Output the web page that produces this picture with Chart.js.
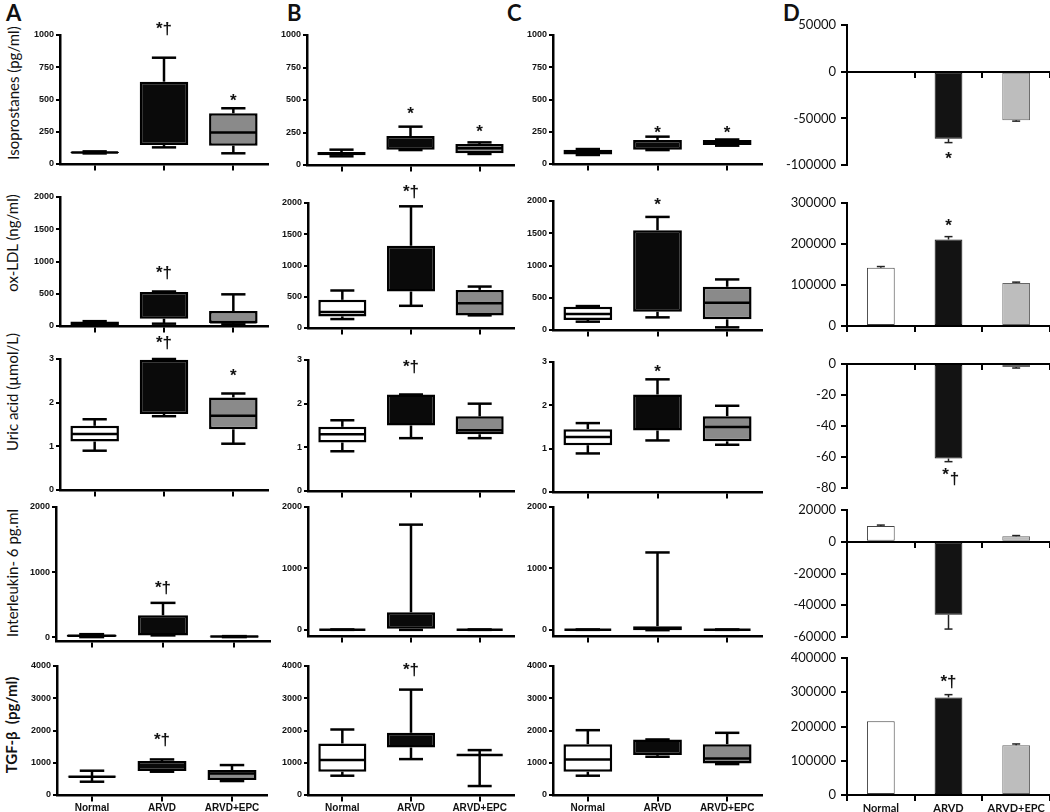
<!DOCTYPE html>
<html>
<head>
<meta charset="utf-8">
<script src="https://cdn.jsdelivr.net/npm/chart.js@4.4.1/dist/chart.umd.min.js"></script>
<style>
  body { margin: 0; background: #fff; width: 1050px; height: 812px; overflow: hidden; position: relative; }
  canvas { position: absolute; }
  .ttl { position: absolute; white-space: nowrap; transform: translate(-50%, -50%) rotate(-90deg);
         font-family: Lato, "Open Sans", sans-serif; font-size: 15px; color: #111; }
  .let { position: absolute; font-family: Lato, "Open Sans", sans-serif; font-weight: bold; font-size: 22px; color: #111; line-height: 1; }
</style>
</head>
<body>
<div class="let" style="left:6px;top:2px">A</div>
<div class="let" style="left:287px;top:2px">B</div>
<div class="let" style="left:507px;top:2px">C</div>
<div class="let" style="left:783px;top:2px">D</div>
<div class="ttl" style="left:13px;top:93px">Isoprostanes (pg/ml)</div>
<div class="ttl" style="left:12px;top:243px">ox-LDL (ng/ml)</div>
<div class="ttl" style="left:12px;top:392px">Uric acid (µmol/L)</div>
<div class="ttl" style="left:12px;top:573px">Interleukin- 6 pg.ml</div>
<div class="ttl" style="left:11px;top:725px;font-weight:bold">TGF-β&nbsp; (pg/ml)</div>
<script>
const groups = ['Normal', 'ARVD', 'ARVD+EPC'];
const boxColors = ['#ffffff', '#0a0a0a', '#8a8a8a'];
const barColors = ['#ffffff', '#131313', '#bdbdbd'];
const showMedian = [true, false, true];   // median hidden inside the black ARVD boxes

// box plots: [min, q1, median, q3, max] per group
const isoA = [[82, 86, 90, 94, 98], [129, 147, 400, 638, 824], [83, 142, 245, 393, 432]];
const isoB = [[67, 75, 88, 100, 118], [115, 118, 150, 223, 295], [85, 90, 128, 162, 174]];
const isoC = [[70, 74, 90, 111, 116], [108, 110, 150, 186, 212], [142, 147, 170, 186, 190]];
const isoD_mean = [0, -72000, -52000];
const isoD_sem = [0, 4000, 1000];

const oxA = [[5, 10, 40, 70, 75], [36, 114, 300, 527, 535], [26, 46, 60, 232, 491]];
const oxB = [[143, 186, 255, 451, 600], [355, 584, 900, 1316, 1947], [202, 202, 398, 610, 663]];
const oxC = [[129, 155, 247, 361, 371], [196, 284, 800, 1546, 1753], [41, 165, 423, 670, 784]];
const oxD_mean = [142000, 211000, 105000];
const oxD_sem = [3000, 7000, 2000];

const uaA = [[0.90, 1.11, 1.28, 1.47, 1.62], [1.69, 1.74, 2.3, 2.98, 3.0], [1.06, 1.39, 1.70, 2.12, 2.21]];
const uaB = [[0.91, 1.11, 1.30, 1.47, 1.62], [1.21, 1.50, 1.9, 2.21, 2.21], [1.21, 1.30, 1.39, 1.71, 2.0]];
const uaC = [[0.89, 1.08, 1.27, 1.45, 1.59], [1.19, 1.42, 1.8, 2.25, 2.6], [1.09, 1.17, 1.5, 1.75, 1.99]];
const uaD_mean = [0, -61, -2];
const uaD_sem = [0, 2, 0.6];

const ilA = [[0, 5, 20, 35, 45], [26, 26, 150, 335, 526], [0, 5, 10, 12, 15]];
const ilB = [[0, 1, 2, 3, 5], [0, 0, 50, 286, 1713], [0, 1, 2, 3, 5]];
const ilC = [[0, 1, 2, 3, 5], [-5, -5, 20, 60, 1260], [0, 1, 2, 3, 5]];
const ilD_mean = [10000, -46000, 3500];
const ilD_sem = [500, 9000, 400];

const tgA = [[412, 560, 565, 570, 753], [722, 742, 900, 1052, 1103], [433, 464, 670, 773, 928]];
const tgB = [[598, 722, 1082, 1598, 2031], [1113, 1474, 1700, 1928, 3268], [278, 1232, 1237, 1242, 1392]];
const tgC = [[598, 722, 1103, 1577, 2010], [1186, 1237, 1500, 1722, 1722], [959, 979, 1134, 1577, 1928]];
const tgD_mean = [215000, 285000, 145000];
const tgD_sem = [0, 8000, 4000];

// y tick labels
const isoTicks = [0, 250, 500, 750, 1000];
const isoDTicks = [-100000, -50000, 0, 50000];
const oxTicks = [0, 500, 1000, 1500, 2000];
const oxDTicks = [0, 100000, 200000, 300000];
const uaTicks = [0, 1, 2, 3];
const uaDTicks = [-80, -60, -40, -20, 0];
const ilTicks = [0, 1000, 2000];
const ilDTicks = [-60000, -40000, -20000, 0, 20000];
const tgTicks = [0, 1000, 2000, 3000, 4000];
const tgDTicks = [0, 100000, 200000, 300000, 400000];

// significance marks per group and the value they sit at ('_' puts the dagger low)
const sig = {
  isoA: [['', '*†', '*'], [0, 1047, 519]], isoB: [['', '*', '*'], [0, 423, 285]],
  isoC: [['', '*', '*'], [0, 271, 271]], isoD: [['', '*', ''], [0, -90000, 0]],
  oxA: [['', '*†', ''], [0, 822, 0]], oxB: [['', '*†', ''], [0, 2176, 0]],
  oxC: [['', '*', ''], [0, 2000, 0]], oxD: [['', '*', ''], [0, 253000, 0]],
  uaA: [['', '*†', '*'], [0, 3.37, 2.70]], uaB: [['', '*†', ''], [0, 2.84, 0]],
  uaC: [['', '*', ''], [0, 2.86, 0]], uaD: [['', '*_†', ''], [0, -69, 0]],
  ilA: [['', '*†', ''], [0, 754, 0]],
  tgA: [['', '*†', ''], [0, 1705, 0]], tgB: [['', '*†', ''], [0, 3876, 0]],
  tgD: [['', '*†', ''], [0, 330000, 0]]
};

// plot frames: left, top(max), right, bottom(min) in page pixels
const frames = {
  isoA: [60, 35, 268, 164], isoB: [307, 35, 514, 165], isoC: [553, 35, 762, 164], isoD: [847, 25, 1050, 165],
  oxA: [60, 197, 268, 326], oxB: [308, 203, 514, 328], oxC: [553, 201, 762, 330], oxD: [847, 203, 1050, 326],
  uaA: [60, 359, 268, 490], uaB: [308, 360, 514, 491], uaC: [553, 362, 762, 492], uaD: [847, 364, 1050, 488],
  ilA: [56, 507, 270, 641], ilB: [308, 507, 514, 636], ilC: [553, 507, 762, 636], ilD: [847, 510, 1050, 637],
  tgA: [57, 666, 267, 795], tgB: [308, 666, 514, 795], tgC: [553, 666, 762, 795], tgD: [847, 658, 1050, 795]
};

const line = (ctx, x1, y1, x2, y2) => { ctx.beginPath(); ctx.moveTo(x1, y1); ctx.lineTo(x2, y2); ctx.stroke(); };

const marksPlugin = {
  id: 'marks',
  afterDatasetsDraw(chart) {
    const ds = chart.data.datasets[0];
    const meta = chart.getDatasetMeta(0);
    const y = chart.scales.y;
    const ctx = chart.ctx;
    ctx.save();
    ctx.strokeStyle = '#000';
    if (ds.stats) {
      ctx.lineWidth = 2.5;
      ds.stats.forEach((s, i) => {
        const bar = meta.data[i];
        const x = bar.x, w = bar.width;
        const [mn, q1, md, q3, mx] = s.map(v => y.getPixelForValue(v));
        line(ctx, x, q3, x, mx);
        line(ctx, x, q1, x, mn);
        line(ctx, x - w / 4, mx, x + w / 4, mx);
        line(ctx, x - w / 4, mn, x + w / 4, mn);
        if (showMedian[i]) line(ctx, x - w / 2 + 1, md, x + w / 2 - 1, md);
      });
    }
    if (ds.sem) {
      ctx.lineWidth = 1.5;
      ctx.strokeStyle = '#222';
      ds.data.forEach((m, i) => {
        if (!ds.sem[i]) return;
        const x = meta.data[i].x;
        const y0 = y.getPixelForValue(m);
        const y1 = y.getPixelForValue(m + Math.sign(m) * ds.sem[i]);
        line(ctx, x, y0, x, y1);
        line(ctx, x - 4, y1, x + 4, y1);
      });
    }
    ctx.restore();
  },
  afterDraw(chart) {
    const ds = chart.data.datasets[0];
    if (!ds.sig) return;
    const meta = chart.getDatasetMeta(0);
    const y = chart.scales.y;
    const ctx = chart.ctx;
    ctx.save();
    ctx.fillStyle = '#111';
    ctx.font = 'bold 17px "Liberation Sans", Arial, sans-serif';
    ctx.textAlign = 'center';
    ctx.textBaseline = 'middle';
    ds.sig[0].forEach((t, i) => {
      if (!t) return;
      const x = meta.data[i].x;
      const py = y.getPixelForValue(ds.sig[1][i]);
      if (t.includes('_')) {
        const [a, b] = t.split('_');
        ctx.fillText(a, x - 3, py + 4);
        ctx.fillText(b, x + 6, py + 8);
      } else {
        ctx.fillText(t, x, t === '*' ? py + 4 : py);
      }
    });
    ctx.restore();
  }
};

function makePanel(name, kind, values, sem, ticks, yMin, yMax, showLabels) {
  const [l, t, r, b] = frames[name];
  const isBar = kind === 'bar';
  const YW = isBar ? 90 : 42, PT = 26, PR = isBar ? 0 : 8, PB = 22;
  const w = r - l + YW + PR, h = b - t + PT + PB;
  const cv = document.createElement('canvas');
  cv.width = w; cv.height = h;
  cv.style.left = (l - YW) + 'px';
  cv.style.top = (t - PT) + 'px';
  cv.style.width = w + 'px';
  cv.style.height = h + 'px';
  document.body.appendChild(cv);

  const tickFont = isBar
    ? { family: 'Lato, "Open Sans", sans-serif', size: 13 }
    : { family: '"Liberation Sans", Arial, sans-serif', size: 9, weight: 'bold' };
  const catFont = isBar
    ? { family: 'Lato, "Open Sans", sans-serif', size: 11, weight: 'bold' }
    : { family: '"Liberation Sans", Arial, sans-serif', size: 10, weight: 'bold' };

  const dataset = isBar
    ? { data: values, backgroundColor: barColors, borderColor: ['#444', '#131313', '#666'], borderWidth: 1,
        borderSkipped: false, barPercentage: 0.41, categoryPercentage: 1, sem: sem }
    : { data: values.map(s => [s[1], s[3]]), backgroundColor: boxColors, borderColor: '#000', borderWidth: 2.5,
        borderSkipped: false, barPercentage: 0.7, categoryPercentage: 1, stats: values };
  dataset.sig = sig[name];

  return new Chart(cv, {
    type: 'bar',
    data: { labels: groups, datasets: [dataset] },
    options: {
      responsive: false,
      animation: false,
      events: [],
      layout: { padding: { top: PT, right: PR, bottom: PB, left: 0 } },
      plugins: { legend: { display: false }, tooltip: { enabled: false } },
      scales: {
        x: {
          position: { y: isBar ? 0 : yMin },
          z: 1,
          offset: true,
          grid: { offset: isBar, display: true, drawOnChartArea: false, drawTicks: true,
                  tickLength: 5, color: '#000', lineWidth: 2 },
          border: { display: true, color: '#000', width: isBar ? 2 : 2.5 },
          ticks: { display: showLabels, font: catFont, color: '#111', padding: 2, maxRotation: 0, autoSkip: false }
        },
        y: {
          min: yMin,
          max: yMax,
          afterFit: s => { s.width = YW; },
          afterBuildTicks: s => { s.ticks = ticks.map(v => ({ value: v })); },
          grid: { display: true, drawOnChartArea: false, drawTicks: true, tickLength: isBar ? 6 : 4,
                  color: '#000', lineWidth: 2 },
          border: { display: true, color: '#000', width: isBar ? 2 : 2.5 },
          ticks: { callback: v => String(v), font: tickFont, color: '#111', padding: isBar ? 5 : 2, autoSkip: false }
        }
      }
    },
    plugins: [marksPlugin]
  });
}

makePanel('isoA', 'box', isoA, null, isoTicks, 0, 1000, false);
makePanel('isoB', 'box', isoB, null, isoTicks, 0, 1000, false);
makePanel('isoC', 'box', isoC, null, isoTicks, 0, 1000, false);
makePanel('isoD', 'bar', isoD_mean, isoD_sem, isoDTicks, -100000, 50000, false);

makePanel('oxA', 'box', oxA, null, oxTicks, 0, 2000, false);
makePanel('oxB', 'box', oxB, null, oxTicks, 0, 2000, false);
makePanel('oxC', 'box', oxC, null, oxTicks, 0, 2000, false);
makePanel('oxD', 'bar', oxD_mean, oxD_sem, oxDTicks, 0, 300000, false);

makePanel('uaA', 'box', uaA, null, uaTicks, 0, 3, false);
makePanel('uaB', 'box', uaB, null, uaTicks, 0, 3, false);
makePanel('uaC', 'box', uaC, null, uaTicks, 0, 3, false);
makePanel('uaD', 'bar', uaD_mean, uaD_sem, uaDTicks, -80, 0, false);

makePanel('ilA', 'box', ilA, null, ilTicks, -60, 2000, false);
makePanel('ilB', 'box', ilB, null, ilTicks, -100, 2000, false);
makePanel('ilC', 'box', ilC, null, ilTicks, -100, 2000, false);
makePanel('ilD', 'bar', ilD_mean, ilD_sem, ilDTicks, -60000, 20000, false);

makePanel('tgA', 'box', tgA, null, tgTicks, 0, 4000, true);
makePanel('tgB', 'box', tgB, null, tgTicks, 0, 4000, true);
makePanel('tgC', 'box', tgC, null, tgTicks, 0, 4000, true);
makePanel('tgD', 'bar', tgD_mean, tgD_sem, tgDTicks, 0, 400000, true);
</script>
</body>
</html>
